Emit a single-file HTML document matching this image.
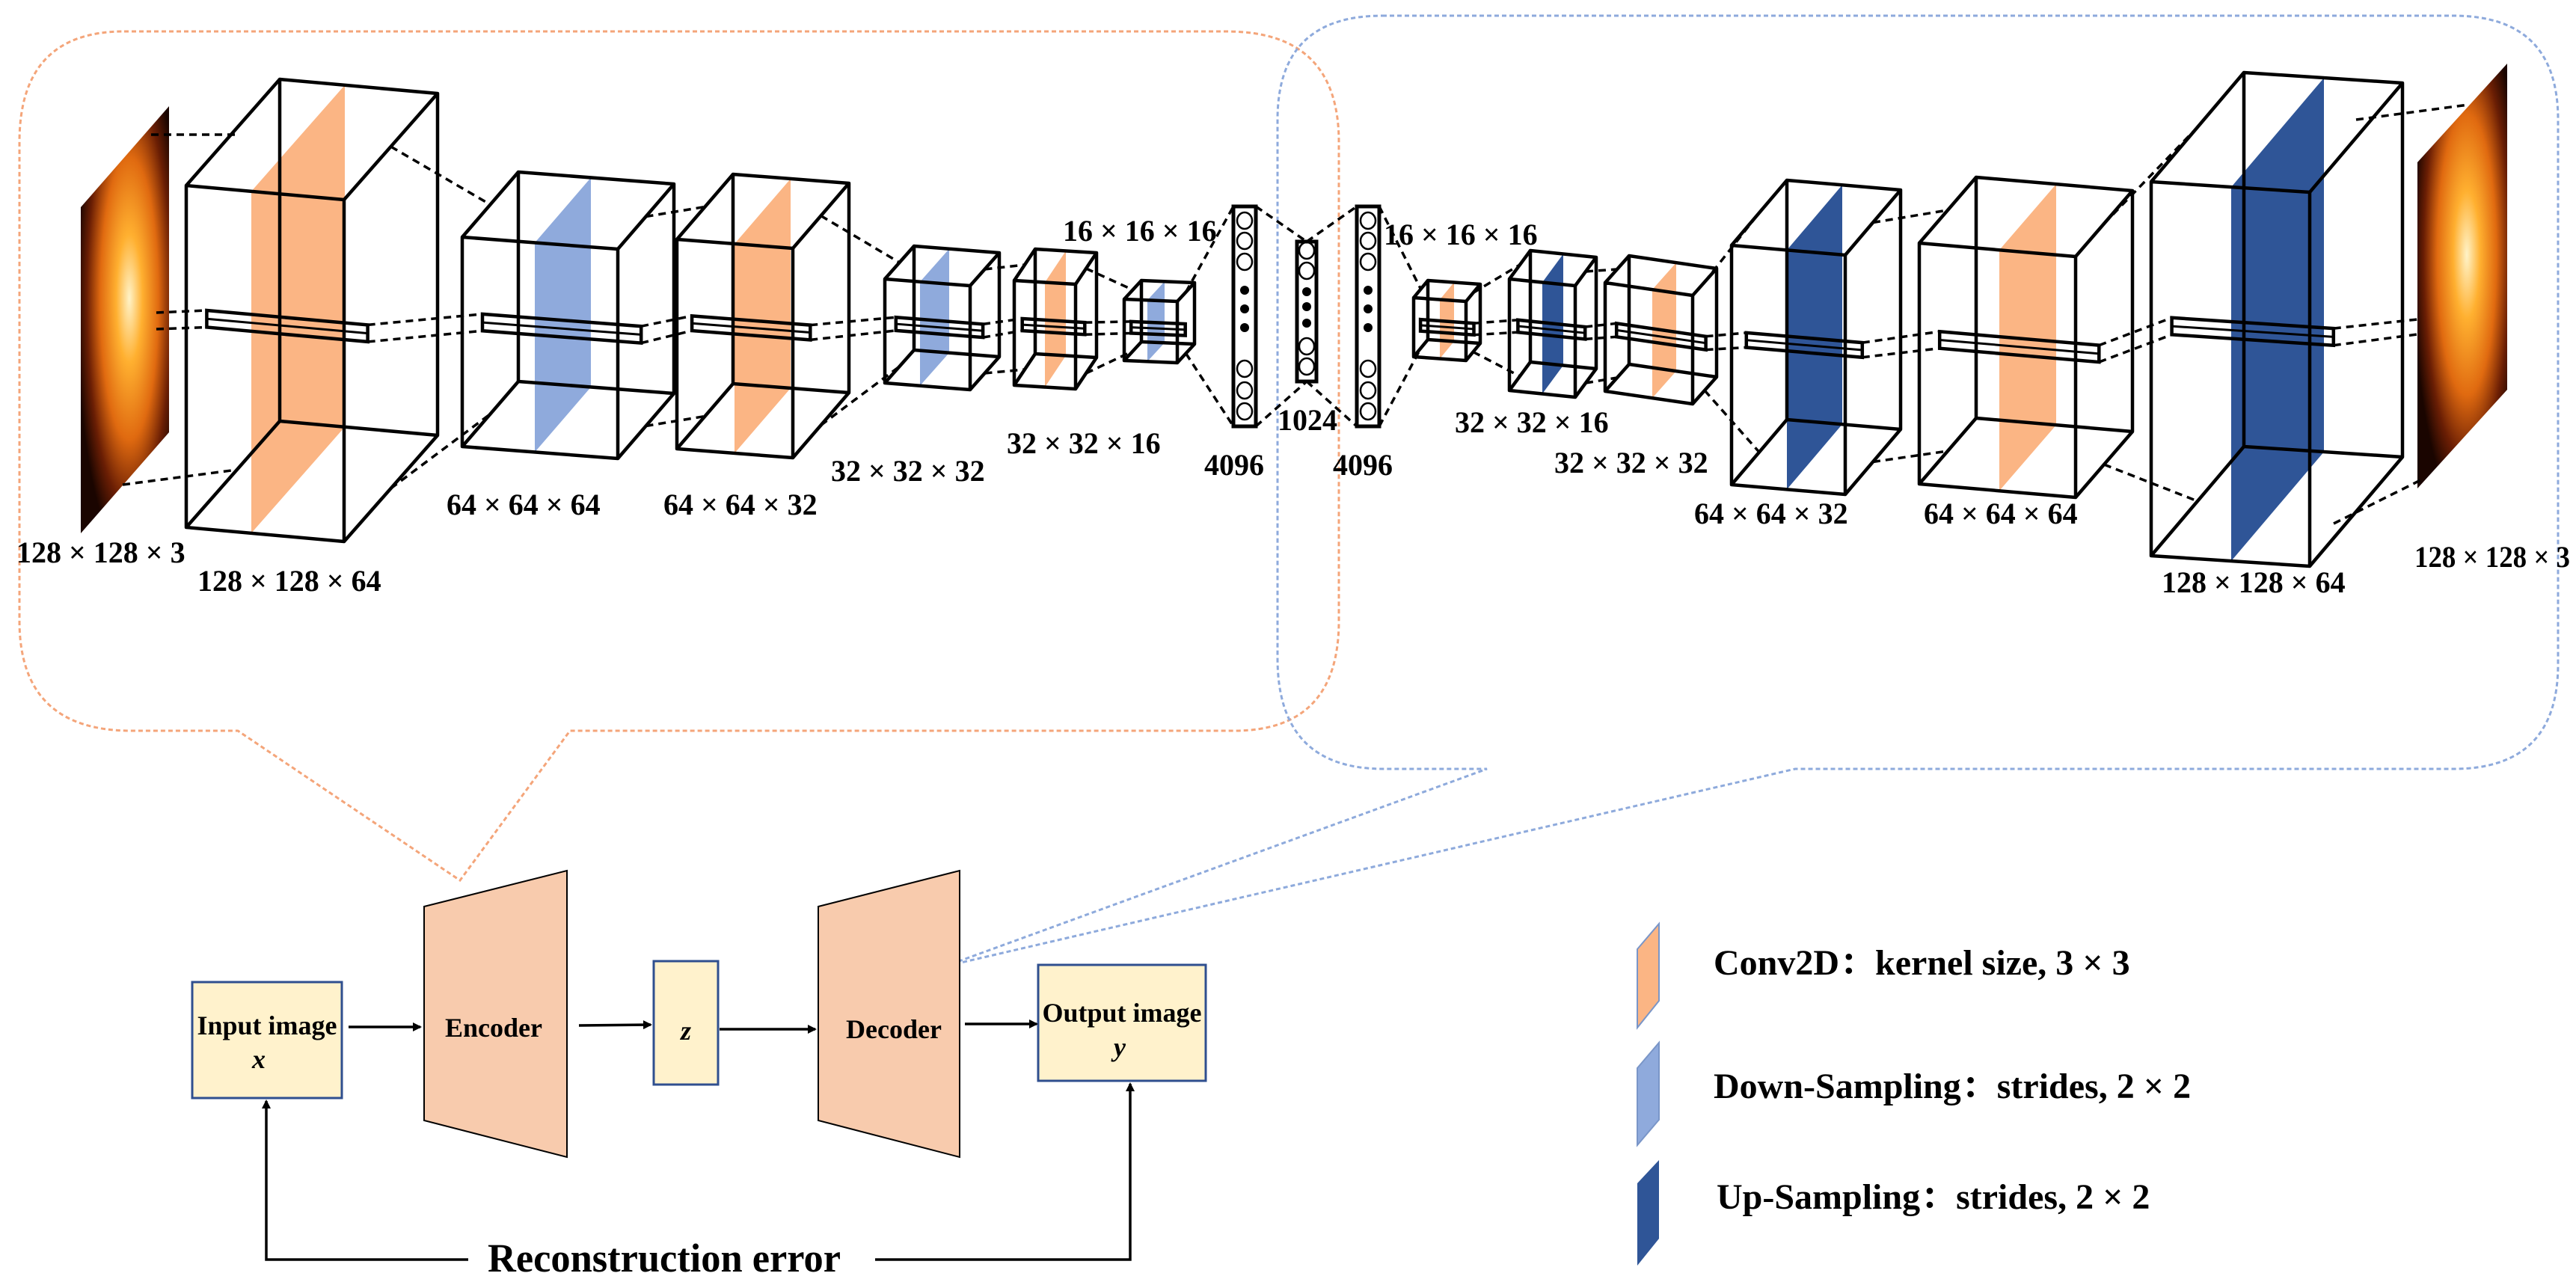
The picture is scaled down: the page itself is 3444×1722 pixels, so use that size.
<!DOCTYPE html>
<html><head><meta charset="utf-8"><style>
html,body{margin:0;padding:0;background:#fff;}
svg{display:block;}
.lb{font-family:"Liberation Serif",serif;font-weight:bold;font-size:40px;fill:#000;}
.bx{font-family:"Liberation Serif",serif;font-weight:bold;font-size:36px;fill:#000;}
.lg{font-family:"Liberation Serif","Noto Serif CJK SC",serif;font-weight:bold;font-size:48px;fill:#000;}
</style></head><body>
<svg id="s" width="3444" height="1722" viewBox="0 0 3444 1722" xmlns="http://www.w3.org/2000/svg">
<defs>
<radialGradient id="fl" cx="0.55" cy="0.45" r="0.6">
<stop offset="0" stop-color="#fff3c8"/><stop offset="0.25" stop-color="#ffb030"/>
<stop offset="0.55" stop-color="#e06a10"/><stop offset="0.8" stop-color="#6a1e04"/><stop offset="1" stop-color="#1a0500"/>
</radialGradient>
<marker id="ar" markerWidth="12" markerHeight="12" refX="10" refY="6" orient="auto" markerUnits="userSpaceOnUse" viewBox="0 0 12 12">
<path d="M0,0 L12,6 L0,12 z" fill="#000"/></marker>
</defs>
<path d="M166,42 H1640 Q1790,42 1790,190 V830 Q1790,977 1650,977 H762 L615,1177 L318,977 H176 Q26,977 26,830 V190 Q26,42 166,42 Z" fill="none" stroke="#f4a57a" stroke-width="3" stroke-dasharray="6 4"/>
<path d="M1848,21 H3280 Q3420,21 3420,160 V888 Q3420,1028 3280,1028 H2400 L1263,1292 L1988,1028 H1850 Q1708,1028 1708,880 V160 Q1708,21 1848,21 Z" fill="none" stroke="#8eaadc" stroke-width="3" stroke-dasharray="6 4"/>
<polygon points="108,277 226,142 226,578 108,713" fill="url(#fl)"/>
<polygon points="3232,217 3352,85 3352,521 3232,653" fill="url(#fl)"/>
<g id="g"></g>
<text class="lb" x="22" y="752">128 × 128 × 3</text>
<text class="lb" x="264" y="790">128 × 128 × 64</text>
<text class="lb" x="597" y="688">64 × 64 × 64</text>
<text class="lb" x="887" y="688">64 × 64 × 32</text>
<text class="lb" x="1111" y="643">32 × 32 × 32</text>
<text class="lb" x="1346" y="606">32 × 32 × 16</text>
<text class="lb" x="1421" y="322">16 × 16 × 16</text>
<text class="lb" x="1610" y="635">4096</text>
<text class="lb" x="1708" y="575">1024</text>
<text class="lb" x="1782" y="635">4096</text>
<text class="lb" x="1850" y="327">16 × 16 × 16</text>
<text class="lb" x="1945" y="578">32 × 32 × 16</text>
<text class="lb" x="2078" y="632">32 × 32 × 32</text>
<text class="lb" x="2265" y="700">64 × 64 × 32</text>
<text class="lb" x="2572" y="700">64 × 64 × 64</text>
<text class="lb" x="2890" y="792">128 × 128 × 64</text>
<text class="lb" x="3228" y="758" textLength="208" lengthAdjust="spacingAndGlyphs">128 × 128 × 3</text>
<rect x="257" y="1313" width="200" height="155" fill="#fff2cc" stroke="#2f4f8f" stroke-width="3"/>
<text class="bx" x="357" y="1383" text-anchor="middle">Input image</text>
<text class="bx" x="346" y="1428" text-anchor="middle" font-style="italic">x</text>
<polygon points="567,1212 758,1164 758,1547 567,1498" fill="#f8cbad" stroke="#000" stroke-width="2"/>
<text class="bx" x="660" y="1386" text-anchor="middle">Encoder</text>
<rect x="874" y="1285" width="86" height="165" fill="#fff2cc" stroke="#2f4f8f" stroke-width="3"/>
<text class="bx" x="917" y="1390" text-anchor="middle" font-style="italic">z</text>
<polygon points="1094,1212 1283,1164 1283,1547 1094,1498" fill="#f8cbad" stroke="#000" stroke-width="2"/>
<text class="bx" x="1195" y="1388" text-anchor="middle">Decoder</text>
<rect x="1388" y="1290" width="224" height="155" fill="#fff2cc" stroke="#2f4f8f" stroke-width="3"/>
<text class="bx" x="1500" y="1366" text-anchor="middle">Output image</text>
<text class="bx" x="1497" y="1412" text-anchor="middle" font-style="italic">y</text>
<g stroke="#000" stroke-width="3.5" fill="none">
<line x1="466" y1="1373" x2="562" y2="1373" marker-end="url(#ar)"/>
<line x1="774" y1="1371" x2="870" y2="1370" marker-end="url(#ar)"/>
<line x1="962" y1="1376" x2="1090" y2="1376" marker-end="url(#ar)"/>
<line x1="1290" y1="1369" x2="1386" y2="1369" marker-end="url(#ar)"/>
<polyline points="626,1684 356,1684 356,1472" marker-end="url(#ar)"/>
<polyline points="1170,1684 1511,1684 1511,1449" marker-end="url(#ar)"/>
</g>
<text class="bx" x="652" y="1700" style="font-size:54px" textLength="472" lengthAdjust="spacingAndGlyphs">Reconstruction error</text>
<polygon points="2189,1269 2218,1235 2218,1338 2189,1374" fill="#fbb584" stroke="#7a96c8" stroke-width="2"/>
<polygon points="2189,1428 2218,1394 2218,1497 2189,1531" fill="#8faadc" stroke="#7a96c8" stroke-width="2"/>
<polygon points="2189,1582 2218,1551 2218,1656 2189,1692" fill="#2f5597"/>
<text class="lg" x="2291" y="1303">Conv2D：kernel size, 3 × 3</text>
<text class="lg" x="2291" y="1468">Down-Sampling：strides, 2 × 2</text>
<text class="lg" x="2295" y="1616">Up-Sampling：strides, 2 × 2</text>
</svg>
<script>
(function(){
var O='#fbb584',L='#8faadc',D='#2f5597';
var cubes=[
[249,248,211,19,457,125,-142,336,O],
[618,317,208,16,280,75,-87,715,L],
[905,320,155,12,280,75,-87,982,O],
[1183,373,114,9,139,39,-44,1230,L],
[1356,375,82,5,140,28,-42,1397,O],
[1503,400,71,3,82,23,-25,1534,L],
[1890,398,70,5,79,19,-23,1925,O],
[2018,373,88,9,149,28,-38,2062,D],
[2146,378,117,17,145,32,-36,2209,O],
[2315,328,152,13,320,74,-87,2389,D],
[2566,325,209,18,322,76,-88,2673,O],
[2876,243,212,14,500,124,-146,2983,D]];
var out='';
function P(a){return a.map(function(p){return p[0].toFixed(1)+','+p[1].toFixed(1)}).join(' ');}
function line(a,b,dash){out+='<line x1="'+a[0]+'" y1="'+a[1]+'" x2="'+b[0]+'" y2="'+b[1]+'" stroke="#000" stroke-width="'+(dash?3.5:4.5)+'"'+(dash?' stroke-dasharray="10 7"':'')+'/>';}
function mid(a,b){return [(a[0]+b[0])/2,(a[1]+b[1])/2];}
var info=[];
cubes.forEach(function(c){
 var fx=c[0],fy=c[1],w=c[2],s=c[3],h=c[4],dx=c[5],dy=c[6],p=c[7],col=c[8];
 var A=[fx,fy],B=[fx+w,fy+s],C=[fx+w,fy+s+h],Dd=[fx,fy+h];
 var b=function(q){return [q[0]+dx,q[1]+dy];};
 var yt=fy+s*(p-fx)/w;
 out+='<polygon points="'+P([[p,yt],[p+dx,yt+dy],[p+dx,yt+dy+h],[p,yt+h]])+'" fill="'+col+'"/>';
 out+='<polygon points="'+P([A,B,C,Dd])+'" fill="none" stroke="#000" stroke-width="4.5" stroke-linejoin="round"/>';
 out+='<polygon points="'+P([b(A),b(B),b(C),b(Dd)])+'" fill="none" stroke="#000" stroke-width="4.5" stroke-linejoin="round"/>';
 [A,B,C,Dd].forEach(function(q){line(q,b(q));});
 var x0=fx+0.13*w,x1=fx+w+0.15*w,y0=fy+0.36*h+s*0.13,sl=s/w*(x1-x0),t=12+0.05*w;
 out+='<polygon points="'+P([[x0,y0],[x1,y0+sl],[x1,y0+sl+t],[x0,y0+t]])+'" fill="none" stroke="#000" stroke-width="4.5"/>';
 out+='<line x1="'+x0+'" y1="'+(y0+t/2)+'" x2="'+x1+'" y2="'+(y0+sl+t/2)+'" stroke="#000" stroke-width="3"/>';
 info.push({tl:mid(A,b(A)),bl:mid(Dd,b(Dd)),tr:mid(B,b(B)),br:mid(C,b(C)),rl:[[x0,y0],[x0,y0+t]],rr:[[x1,y0+sl],[x1,y0+sl+t]]});
});
var bars=[[1649,276,30,570,[295,322,350],[388,413,438],[493,522,550]],[1734,323,26,510,[335,362],[390,410,432],[463,490]],[1814,276,30,570,[295,322,350],[388,413,438],[493,522,550]]];
bars.forEach(function(r){
 out+='<rect x="'+r[0]+'" y="'+r[1]+'" width="'+r[2]+'" height="'+(r[3]-r[1])+'" fill="#fff" stroke="#000" stroke-width="5"/>';
 var cx=r[0]+r[2]/2;
 r[4].concat(r[6]).forEach(function(y){out+='<ellipse cx="'+cx+'" cy="'+y+'" rx="10" ry="11" fill="none" stroke="#000" stroke-width="2.5"/>';});
 r[5].forEach(function(y){out+='<circle cx="'+cx+'" cy="'+y+'" r="6" fill="#000"/>';});
});
for(var i=0;i<cubes.length-1;i++){
 if(i==5)continue;
 var a=info[i],b2=info[i+1];
 line(a.tr,b2.tl,1);line(a.br,b2.bl,1);
 line(a.rr[0],b2.rl[0],1);line(a.rr[1],b2.rl[1],1);
}
var c6=info[5],d1=info[6];
line(c6.tr,[1649,276],1);line(c6.br,[1649,570],1);
line([1679,276],[1747,323],1);line([1679,570],[1747,510],1);
line([1747,323],[1814,276],1);line([1747,510],[1814,570],1);
line([1844,276],d1.tl,1);line([1844,570],d1.bl,1);
var c1=info[0];
line([202,180],[315,180],1);line([164,648],[317,628],1);
line([209,418],c1.rl[0],1);line([209,440],c1.rl[1],1);
var d6=info[11];
line(d6.rr[0],[3232,427],1);line(d6.rr[1],[3232,447],1);
line([3150,160],[3300,140],1);line([3120,700],[3240,640],1);
document.getElementById('g').innerHTML=out;
})();
</script>
</body></html>
